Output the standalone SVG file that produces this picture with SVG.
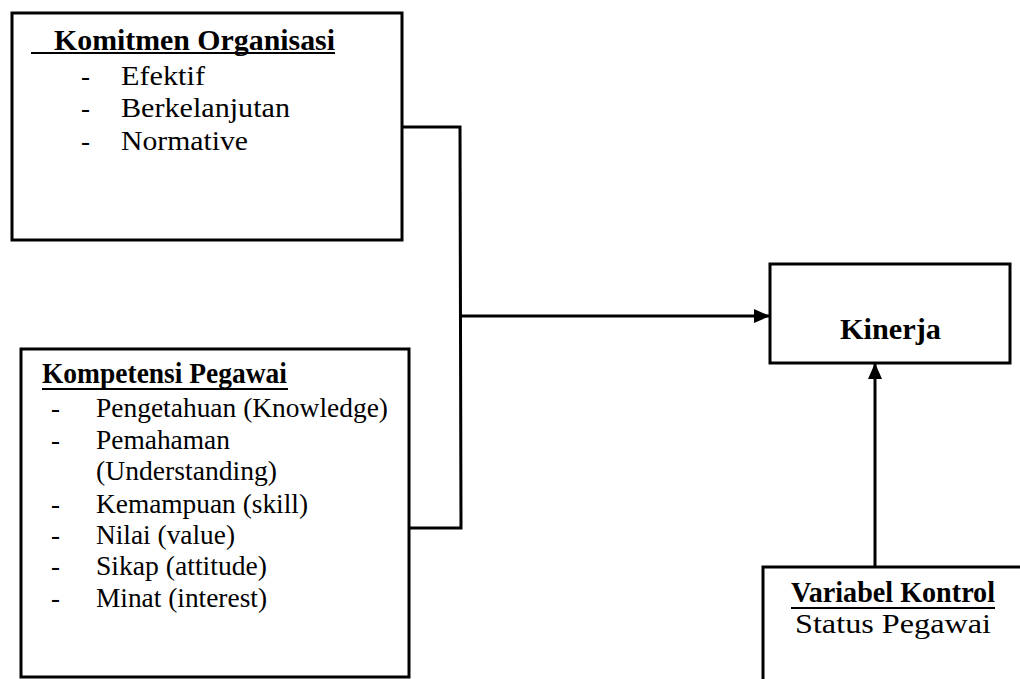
<svg xmlns="http://www.w3.org/2000/svg" width="1020" height="679" viewBox="0 0 1020 679">
<style>
.box{fill:#fff;stroke:#000;stroke-width:3}
.t{font-family:"Liberation Serif","Times New Roman",serif;font-size:27px;fill:#000}
.b{font-family:"Liberation Serif","Times New Roman",serif;font-size:29px;font-weight:bold;fill:#000}
.ul{stroke:#000;stroke-width:2}
.conn{fill:none;stroke:#000;stroke-width:3}
</style>
<defs>
<marker id="arr" markerWidth="16" markerHeight="14" refX="15" refY="7" orient="auto" markerUnits="userSpaceOnUse">
<path d="M0,0 L16,7 L0,14 Z" fill="#000"/>
</marker>
</defs>
<rect width="1020" height="679" fill="#fff"/>
<g id="connectors">
<polyline class="conn" points="402,127 460,127 461,528 409,528"/>
<line class="conn" x1="461" y1="316" x2="769" y2="316" marker-end="url(#arr)"/>
<line class="conn" x1="875" y1="567" x2="875" y2="364" marker-end="url(#arr)"/>
</g>
<g id="komitmen">
<rect class="box" x="12" y="13" width="390" height="227"/>
<text class="b" x="54" y="50" textLength="281" lengthAdjust="spacingAndGlyphs">Komitmen Organisasi</text>
<line class="ul" x1="31" y1="53" x2="335" y2="53"/>
<text class="t" x="81" y="85">-</text>
<text class="t" x="121" y="85" textLength="84" lengthAdjust="spacingAndGlyphs">Efektif</text>
<text class="t" x="81" y="117">-</text>
<text class="t" x="121" y="117" textLength="169" lengthAdjust="spacingAndGlyphs">Berkelanjutan</text>
<text class="t" x="81" y="150">-</text>
<text class="t" x="121" y="150" textLength="127" lengthAdjust="spacingAndGlyphs">Normative</text>
</g>
<g id="kompetensi">
<rect class="box" x="21" y="349" width="388" height="328"/>
<text class="b" x="42" y="383" textLength="245" lengthAdjust="spacingAndGlyphs">Kompetensi Pegawai</text>
<line class="ul" x1="42" y1="389" x2="288" y2="389"/>
<text class="t" x="51" y="417">-</text>
<text class="t" x="96" y="417" textLength="292" lengthAdjust="spacingAndGlyphs">Pengetahuan (Knowledge)</text>
<text class="t" x="51" y="449">-</text>
<text class="t" x="96" y="449" textLength="134" lengthAdjust="spacingAndGlyphs">Pemahaman</text>
<text class="t" x="96" y="480" textLength="181" lengthAdjust="spacingAndGlyphs">(Understanding)</text>
<text class="t" x="51" y="513">-</text>
<text class="t" x="96" y="513" textLength="212" lengthAdjust="spacingAndGlyphs">Kemampuan (skill)</text>
<text class="t" x="51" y="544">-</text>
<text class="t" x="96" y="544" textLength="139" lengthAdjust="spacingAndGlyphs">Nilai (value)</text>
<text class="t" x="51" y="575">-</text>
<text class="t" x="96" y="575" textLength="171" lengthAdjust="spacingAndGlyphs">Sikap (attitude)</text>
<text class="t" x="51" y="607">-</text>
<text class="t" x="96" y="607" textLength="171" lengthAdjust="spacingAndGlyphs">Minat (interest)</text>
</g>
<g id="kinerja">
<rect class="box" x="770" y="264" width="240" height="99"/>
<text class="b" x="840" y="339" textLength="101" lengthAdjust="spacingAndGlyphs">Kinerja</text>
</g>
<g id="kontrol">
<rect class="box" x="763" y="567" width="300" height="200"/>
<text class="b" x="791" y="602" textLength="204" lengthAdjust="spacingAndGlyphs">Variabel Kontrol</text>
<line class="ul" x1="791" y1="608" x2="995" y2="608"/>
<text class="t" x="795" y="633" textLength="196" lengthAdjust="spacingAndGlyphs">Status Pegawai</text>
</g>
</svg>
